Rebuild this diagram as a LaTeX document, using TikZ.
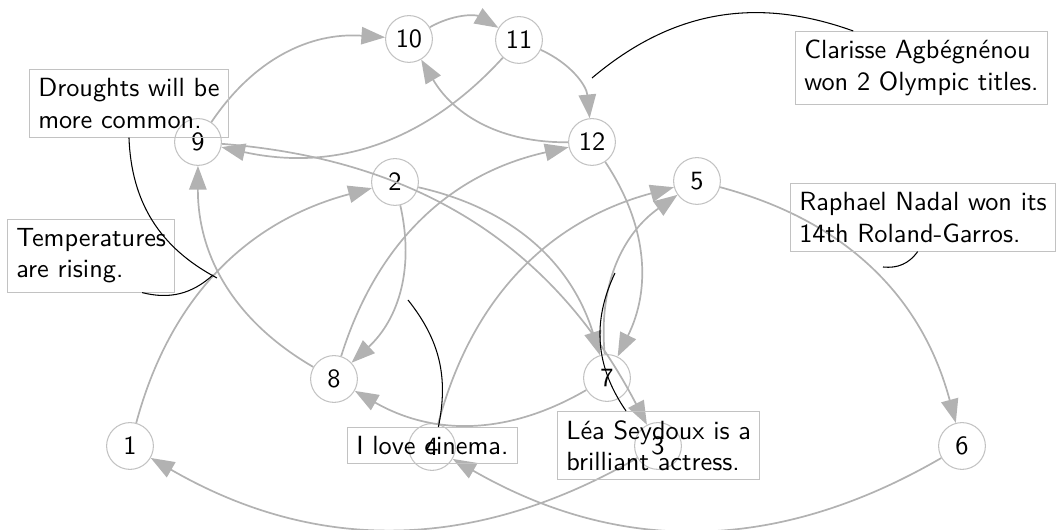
\documentclass[tikz,border=0pt]{standalone}
\usetikzlibrary{arrows.meta}
\definecolor{edgegray}{gray}{0.70}
\definecolor{nodegray}{gray}{0.76}
\begin{document}
\begin{tikzpicture}[x=0.380228pt, y=0.380228pt,
  vertex/.style={circle, draw=nodegray, line width=0.4pt, minimum size=17.8pt, inner sep=0pt, font=\sffamily},
  note/.style={draw=nodegray, line width=0.4pt, align=left, anchor=north west, inner sep=3.33pt, font=\sffamily},
  link/.style={draw=edgegray, line width=0.65pt, -{Triangle[length=9pt,width=6.6pt]}, bend left=30},
  callout/.style={draw=black, line width=0.4pt}]
\useasboundingbox (0,0) rectangle (1057,530);

% graph vertices
\node[vertex] (n1)  at (130,84)  {1};
\node[vertex] (n2)  at (395,348) {2};
\node[vertex] (n3)  at (658,84)  {3};
\node[vertex] (n4)  at (432,83)  {4};
\node[vertex] (n5)  at (697,349) {5};
\node[vertex] (n6)  at (962,84)  {6};
\node[vertex] (n7)  at (607,152) {7};
\node[vertex] (n8)  at (334,151) {8};
\node[vertex] (n9)  at (198,388) {9};
\node[vertex] (n10) at (409,491) {10};
\node[vertex] (n11) at (519,490) {11};
\node[vertex] (n12) at (592,388) {12};

% directed edges
\draw[link] (n9) to (n10);
\draw[link] (n10) to (n11);
\draw[link] (n11) to (n12);
\draw[link] (n12) to (n10);
\draw[link] (n11) to (n9);
\draw[link] (n9) to[bend left=29] (n3);
\draw[link] (n2) to (n7);
\draw[link] (n2) to (n8);
\draw[link] (n8) to (n12);
\draw[link] (n8) to (n9);
\draw[link] (n1) to (n2);
\draw[link] (n4) to (n5);
\draw[link] (n7) to (n5);
\draw[link] (n12) to (n7);
\draw[link] (n7) to (n8);
\draw[link] (n5) to (n6);
\draw[link] (n6) to (n4);
\draw[link] (n3) to (n1);

% annotation boxes
\node[note] (drought) at (29,461)  {Droughts will be\\more common.};
\node[note] (temp)    at (7,311)   {Temperatures\\are rising.};
\node[note] (clar)    at (795,499) {Clarisse Agbégnénou\\won 2 Olympic titles.};
\node[note] (raph)    at (790,347) {Raphael Nadal won its\\14th Roland-Garros.};
\node[note] (cine)    at (347,103) {I love cinema.};
\node[note] (lea)     at (557,119) {Léa Seydoux is a\\brilliant actress.};

% callout ends
\coordinate (pclar)    at (592,452);
\coordinate (pdrought) at (217,252);
\coordinate (ptemp)    at (213,255);
\coordinate (praph)    at (883,263);
\coordinate (pcine)    at (408,230);
\coordinate (plea)     at (615,257);

\draw[callout] ([xshift=-25.9pt]clar.north) to[bend right=30] (pclar);
\draw[callout] (drought.south) to[bend right=30] (pdrought);
\draw[callout] ([xshift=19.4pt]temp.south) to[bend right=28] (ptemp);
\draw[callout] ([xshift=-2pt]raph.south) to[bend left=30] (praph);
\draw[callout] ([xshift=2.3pt]cine.north) to[bend right=25] (pcine);
\draw[callout] ([xshift=-12.4pt]lea.north) to[bend left=30] (plea);
\end{tikzpicture}
\end{document}
